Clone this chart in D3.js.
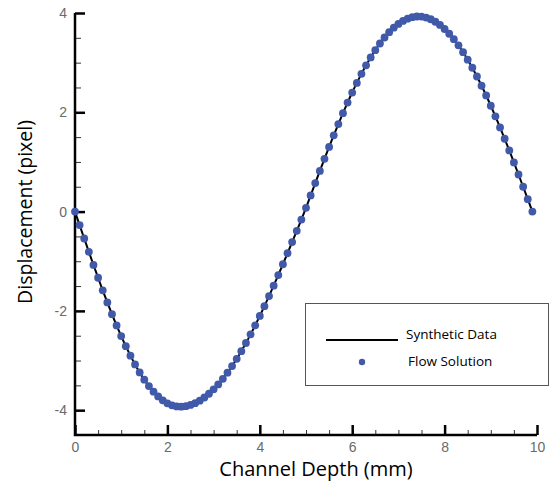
<!DOCTYPE html>
<html>
<head>
<meta charset="utf-8">
<script src="https://cdn.jsdelivr.net/npm/d3@7"></script>
<style>
  body { margin: 0; background: #fff; }
  svg { display: block; }
</style>
</head>
<body>
<div id="chart"></div>
<script>
// depth along the channel (mm), sampled every 0.1 mm
const depth = [
  0.0,0.1,0.2,0.3,0.4,0.5,0.6,0.7,0.8,0.9,
  1.0,1.1,1.2,1.3,1.4,1.5,1.6,1.7,1.8,1.9,
  2.0,2.1,2.2,2.3,2.4,2.5,2.6,2.7,2.8,2.9,
  3.0,3.1,3.2,3.3,3.4,3.5,3.6,3.7,3.8,3.9,
  4.0,4.1,4.2,4.3,4.4,4.5,4.6,4.7,4.8,4.9,
  5.0,5.1,5.2,5.3,5.4,5.5,5.6,5.7,5.8,5.9,
  6.0,6.1,6.2,6.3,6.4,6.5,6.6,6.7,6.8,6.9,
  7.0,7.1,7.2,7.3,7.4,7.5,7.6,7.7,7.8,7.9,
  8.0,8.1,8.2,8.3,8.4,8.5,8.6,8.7,8.8,8.9,
  9.0,9.1,9.2,9.3,9.4,9.5,9.6,9.7,9.8,9.9
];
// displacement (pixel)
const synthetic = [
  0.000,-0.272,-0.542,-0.810,-1.074,-1.333,-1.585,-1.830,-2.066,-2.293,
  -2.508,-2.711,-2.902,-3.078,-3.239,-3.385,-3.515,-3.628,-3.724,-3.802,
  -3.862,-3.903,-3.925,-3.929,-3.919,-3.895,-3.858,-3.808,-3.745,-3.669,
  -3.581,-3.481,-3.369,-3.245,-3.111,-2.966,-2.811,-2.647,-2.473,-2.291,
  -2.102,-1.905,-1.702,-1.493,-1.279,-1.061,-0.839,-0.615,-0.388,-0.160,
  0.075,0.325,0.574,0.820,1.063,1.302,1.536,1.763,1.983,2.195,
  2.398,2.592,2.774,2.946,3.105,3.252,3.386,3.507,3.613,3.704,
  3.780,3.841,3.886,3.915,3.929,3.927,3.908,3.874,3.824,3.759,
  3.678,3.582,3.472,3.348,3.210,3.059,2.897,2.721,2.535,2.339,
  2.132,1.918,1.696,1.467,1.232,0.991,0.747,0.500,0.251,0.000
];
const flow = synthetic.slice();

const xMajor = [0,2,4,6,8,10];
const xMinor = [0.5,1,1.5,2.5,3,3.5,4.5,5,5.5,6.5,7,7.5,8.5,9,9.5];
const yMajor = [-4,-2,0,2,4];
const yMinor = [-3.5,-3,-2.5,-1.5,-1,-0.5,0.5,1,1.5,2.5,3,3.5];

const W = 552, H = 484;
const svg = d3.select('#chart').append('svg').attr('width',W).attr('height',H);

const x = d3.scaleLinear().domain([0,10]).range([75,537]);
const y = d3.scaleLinear().domain([-4.5,4]).range([435,13]);

const tickFont = '"Liberation Sans", Arial, sans-serif';
const titleFont = '"Open Sans", "Noto Sans", sans-serif';
const fmt = d => d < 0 ? '-' + Math.abs(d) : String(d);

// minor ticks
svg.append('g').attr('transform','translate(0,435)')
  .call(d3.axisBottom(x).tickValues(xMinor).tickSize(-5).tickFormat(''))
  .call(g=>g.select('.domain').remove())
  .call(g=>g.selectAll('line').attr('stroke','#333').attr('stroke-width',1));
svg.append('g').attr('transform','translate(75,0)')
  .call(d3.axisLeft(y).tickValues(yMinor).tickSize(-6).tickFormat(''))
  .call(g=>g.select('.domain').remove())
  .call(g=>g.selectAll('line').attr('stroke','#333').attr('stroke-width',1));

// major ticks + labels
const xAxis = svg.append('g').attr('transform','translate(0,435)')
  .call(d3.axisBottom(x).tickValues(xMajor).tickSize(-10).tickPadding(7).tickSizeOuter(0).tickFormat(fmt))
  .call(g=>g.select('.domain').remove());
xAxis.selectAll('line').attr('stroke','#000').attr('stroke-width',2.5);
xAxis.selectAll('text').attr('font-family',tickFont).attr('font-size',14).attr('fill','#6a6a6a');

const yAxis = svg.append('g').attr('transform','translate(75,0)')
  .call(d3.axisLeft(y).tickValues(yMajor).tickSize(-10).tickPadding(8).tickSizeOuter(0).tickFormat(fmt))
  .call(g=>g.select('.domain').remove());
yAxis.selectAll('line').attr('stroke','#000').attr('stroke-width',2.5);
yAxis.selectAll('text').attr('font-family',tickFont).attr('font-size',14).attr('fill','#6a6a6a');

// axis lines
svg.append('path')
  .attr('d',`M${x(0)},${y(4)}V${y(-4.5)}H${x(10)}`)
  .attr('fill','none').attr('stroke','#000').attr('stroke-width',2.5);

// synthetic data line
const pts = depth.map((d,i)=>[d,synthetic[i]]);
svg.append('path')
  .datum(pts)
  .attr('d',d3.line().x(d=>x(d[0])).y(d=>y(d[1])).curve(d3.curveCatmullRom))
  .attr('fill','none').attr('stroke','#000').attr('stroke-width',2);

// flow solution points
svg.append('g').selectAll('circle')
  .data(depth.map((d,i)=>[d,flow[i]]))
  .join('circle')
  .attr('cx',d=>x(d[0])).attr('cy',d=>y(d[1]))
  .attr('r',3.9).attr('fill','#4159a9');

// axis titles
svg.append('text')
  .attr('x',316).attr('y',476)
  .attr('text-anchor','middle')
  .attr('font-family',titleFont).attr('font-size',20).attr('fill','#000')
  .text('Channel Depth (mm)');
svg.append('text')
  .attr('transform','translate(32,212) rotate(-90)')
  .attr('text-anchor','middle')
  .attr('font-family',titleFont).attr('font-size',19.5).attr('fill','#000')
  .text('Displacement (pixel)');

// legend
const lg = svg.append('g');
lg.append('rect').attr('x',305.5).attr('y',303.5).attr('width',243).attr('height',82)
  .attr('fill','#fff').attr('stroke','#555').attr('stroke-width',1);
lg.append('line').attr('x1',326).attr('x2',398).attr('y1',340).attr('y2',340)
  .attr('stroke','#000').attr('stroke-width',2);
lg.append('circle').attr('cx',362).attr('cy',362).attr('r',3.2).attr('fill','#4159a9');
lg.append('text').attr('x',406).attr('y',339)
  .attr('font-family',titleFont).attr('font-size',13.5).attr('fill','#000')
  .text('Synthetic Data');
lg.append('text').attr('x',408).attr('y',366)
  .attr('font-family',titleFont).attr('font-size',13.5).attr('fill','#000')
  .text('Flow Solution');
</script>
</body>
</html>
